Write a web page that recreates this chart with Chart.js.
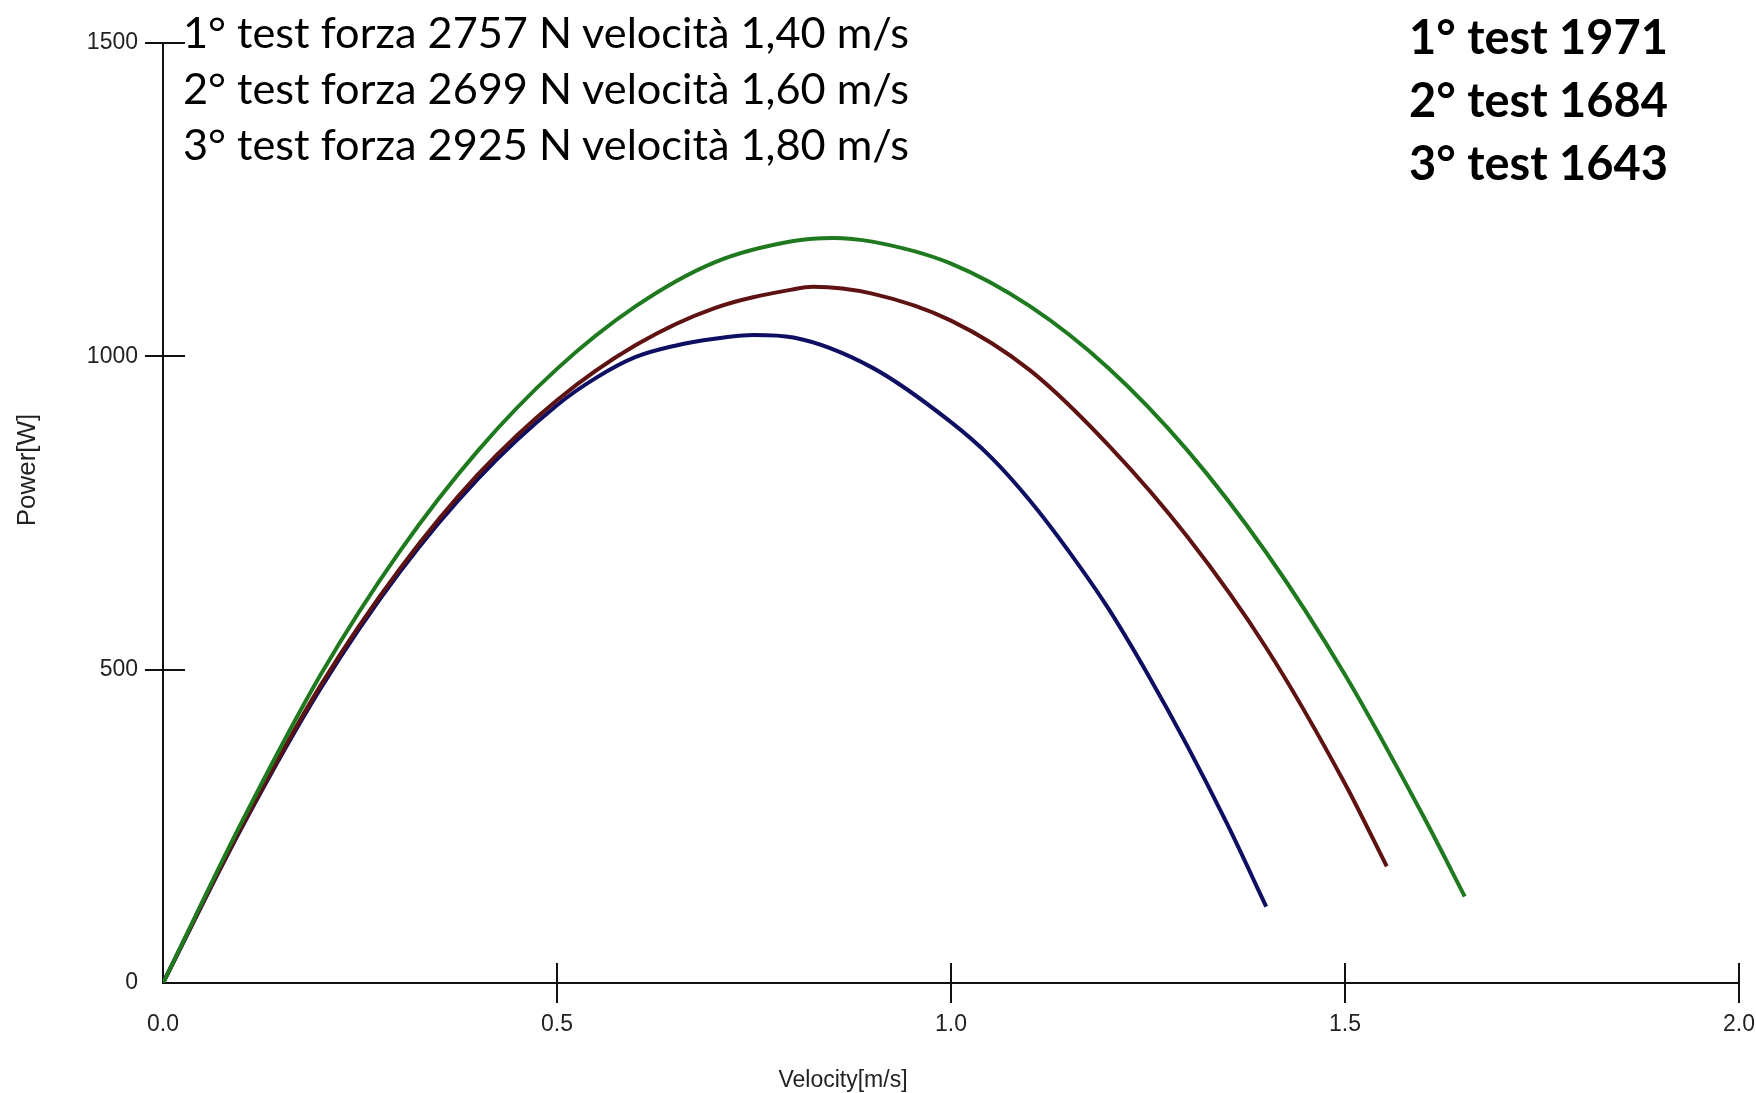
<!DOCTYPE html>
<html>
<head>
<meta charset="utf-8">
<script src="https://cdn.jsdelivr.net/npm/chart.js@4.4.1/dist/chart.umd.min.js"></script>
<style>
  html, body { margin: 0; padding: 0; background: #fff; }
  #wrap { position: relative; width: 1756px; height: 1093px; overflow: hidden; }
  canvas { position: absolute; left: 0; top: 0; }
  .note { position: absolute; white-space: nowrap; color: #000; font-family: Lato, "Noto Sans", sans-serif; }
  #left { left: 183px; top: 3px; font-size: 40px; line-height: 56px; }
  #right { left: 1409px; top: 5px; font-size: 44px; line-height: 63px; font-weight: bold; }
</style>
</head>
<body>
<div id="wrap">
  <canvas id="c" width="1756" height="1093"></canvas>
  <div class="note" id="left">
    <div class="ln">1° test forza 2757 N velocità 1,40 m/s</div>
    <div>2° test forza 2699 N velocità 1,60 m/s</div>
    <div>3° test forza 2925 N velocità 1,80 m/s</div>
  </div>
  <div class="note" id="right">
    <div class="ln">1° test 1971</div>
    <div>2° test 1684</div>
    <div>3° test 1643</div>
  </div>
</div>
<script>
// ---- data ----
const seriesNames = ["3° test", "2° test", "1° test"];

const test3Velocity = [0, 0.1, 0.2, 0.3, 0.4, 0.5, 0.6, 0.7, 0.8, 0.85, 0.9, 1.0, 1.1, 1.2, 1.3, 1.4, 1.5, 1.6, 1.652];
const test3Power    = [0, 257, 492, 688, 850, 980, 1080, 1150, 1184, 1189, 1183, 1148, 1080, 981, 850, 687, 492, 265, 138];

const test2Velocity = [0, 0.1, 0.2, 0.3, 0.4, 0.5, 0.6, 0.7, 0.8, 0.825, 0.9, 1.0, 1.1, 1.2, 1.3, 1.4, 1.5, 1.553];
const test2Power    = [0, 250, 475, 660, 812, 930, 1018, 1077, 1107, 1111, 1100, 1057, 978, 858, 712, 535, 318, 186];

const test1Velocity = [0, 0.1, 0.2, 0.3, 0.4, 0.5, 0.55, 0.6, 0.65, 0.7, 0.75, 0.8, 0.9, 1.0, 1.05, 1.1, 1.15, 1.2, 1.25, 1.3, 1.35, 1.4];
const test1Power    = [0, 248, 470, 655, 805, 922, 966, 999, 1017, 1028, 1034, 1030, 982, 895, 840, 770, 688, 597, 492, 378, 255, 122];

const velocityTicks = [0, 0.5, 1.0, 1.5, 2.0];
const powerTicks = [0, 500, 1000, 1500];

const xTitle = "Velocity[m/s]";
const yTitle = "Power[W]";

function pts(vs, ps) { return vs.map((v, i) => ({ x: v, y: ps[i] })); }

// fit annotation text widths
(function fit() {
  const targets = [["left", 726], ["right", 259]];
  targets.forEach(([id, w]) => {
    const el = document.getElementById(id);
    const ln = el.querySelector('.ln');
    const r = document.createRange(); r.selectNodeContents(ln);
    const cw = r.getBoundingClientRect().width;
    const fs = parseFloat(getComputedStyle(el).fontSize);
    el.style.fontSize = (fs * w / cw).toFixed(2) + 'px';
  });
})();

const crossTicks = {
  id: 'crossTicks',
  afterDraw(chart) {
    const { ctx, scales: { x, y } } = chart;
    ctx.save();
    ctx.strokeStyle = '#111';
    ctx.lineWidth = 2;
    x.ticks.forEach(t => {
      if (t.value === 0) return;
      const px = Math.round(x.getPixelForValue(t.value));
      ctx.beginPath(); ctx.moveTo(px, x.top - 20); ctx.lineTo(px, x.top + 20); ctx.stroke();
    });
    y.ticks.forEach(t => {
      if (t.value === 0) return;
      const py = Math.round(y.getPixelForValue(t.value));
      ctx.beginPath(); ctx.moveTo(y.right - 18, py); ctx.lineTo(y.right + 22, py); ctx.stroke();
    });
    // axis titles
    ctx.fillStyle = '#222';
    ctx.textAlign = 'center';
    ctx.textBaseline = 'middle';
    ctx.font = '23px "Liberation Sans", Arial, sans-serif';
    ctx.fillText(xTitle, 843, 1081);
    ctx.translate(28, 470);
    ctx.rotate(-Math.PI / 2);
    ctx.font = '26px "Liberation Sans", Arial, sans-serif';
    ctx.fillText(yTitle, 0, 0);
    ctx.restore();
  }
};

const tickFont = { family: '"Liberation Sans Narrow", "Arial Narrow", "Liberation Sans", sans-serif', size: 23 };

new Chart(document.getElementById('c'), {
  type: 'line',
  data: {
    datasets: [
      { label: seriesNames[0], data: pts(test3Velocity, test3Power), borderColor: '#1f7a1f' },
      { label: seriesNames[1], data: pts(test2Velocity, test2Power), borderColor: '#5e1212' },
      { label: seriesNames[2], data: pts(test1Velocity, test1Power), borderColor: '#0e0e62' }
    ].map(d => Object.assign(d, { borderWidth: 4, pointRadius: 0, fill: false, cubicInterpolationMode: 'monotone' }))
  },
  options: {
    responsive: false,
    animation: false,
    layout: { padding: { left: 0, right: 17, top: 43, bottom: 0 } },
    plugins: { legend: { display: false }, tooltip: { enabled: false } },
    scales: {
      x: {
        type: 'linear', min: 0, max: 2,
        afterBuildTicks: s => { s.ticks = velocityTicks.map(v => ({ value: v })); },
        afterFit: s => { s.height = 110; s.paddingLeft = 0; s.paddingRight = 0; },
        grid: { display: false, drawTicks: false },
        border: { display: true, color: '#111', width: 2 },
        ticks: { color: '#222', font: tickFont, padding: 28, maxRotation: 0, callback: v => Number(v).toFixed(1) }
      },
      y: {
        type: 'linear', min: 0, max: 1500,
        afterBuildTicks: s => { s.ticks = powerTicks.map(v => ({ value: v })); },
        afterFit: s => { s.width = 163; s.paddingTop = 0; s.paddingBottom = 0; },
        grid: { display: false, drawTicks: false },
        border: { display: true, color: '#111', width: 2 },
        ticks: { color: '#222', font: tickFont, padding: 25, callback: v => String(v) }
      }
    }
  },
  plugins: [crossTicks]
});
</script>
</body>
</html>
